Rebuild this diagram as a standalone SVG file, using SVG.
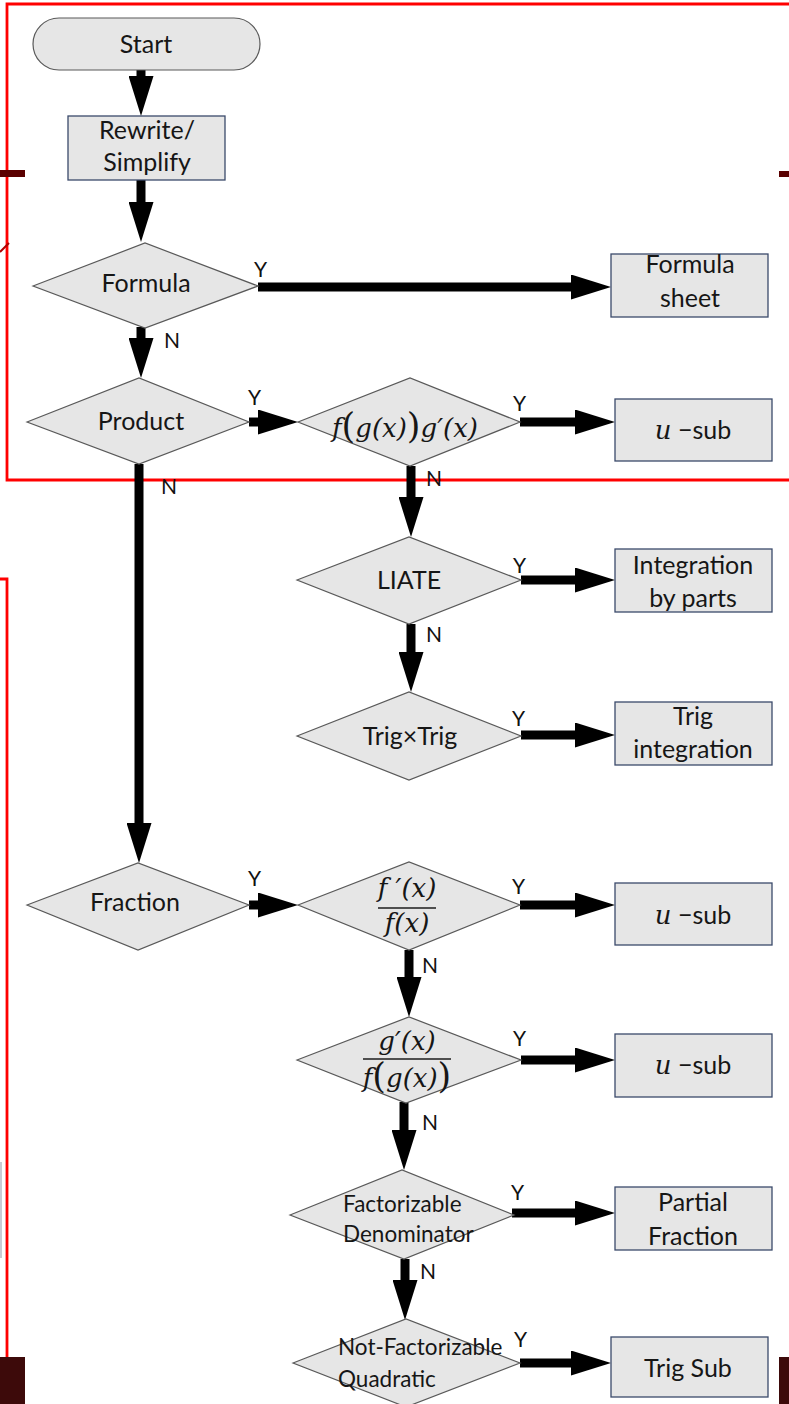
<svg xmlns="http://www.w3.org/2000/svg" width="789" height="1404" viewBox="0 0 789 1404">
<defs>
<marker id="ah" viewBox="0 0 40 25" refX="12" refY="12.5" markerWidth="40" markerHeight="25" markerUnits="userSpaceOnUse" orient="auto">
<path d="M0,0 L40,12.5 L0,25 z" fill="#000"/>
</marker>
<style>
.box{fill:#e6e6e6;stroke:#3b4a6b;stroke-width:1.3}
.dia{fill:#e6e6e6;stroke:#595959;stroke-width:1.2}
.t{font-family:Lato,"Open Sans",sans-serif;font-size:25px;fill:#161616;text-anchor:middle}
.s{font-family:Lato,"Open Sans",sans-serif;font-size:22.5px;fill:#161616}
.lbl{font-family:Lato,"Open Sans",sans-serif;font-size:21px;fill:#111}
.m{font-family:"DejaVu Serif",serif;font-style:italic;font-size:26px;fill:#161616;text-anchor:middle}
.mi{font-family:"DejaVu Serif",serif;font-style:italic;font-size:26px}
.arr{stroke:#000;stroke-width:9;fill:none;marker-end:url(#ah)}
.red{stroke:#ff0000;stroke-width:2.8;fill:none}
</style>
</defs>
<rect width="789" height="1404" fill="#fff"/>
<g id="decor">
<polyline class="red" points="789,4 7,4 7,480 789,480"/>
<polyline class="red" points="0,579 7,579 7,1372 0,1372"/>
<rect x="0" y="170" width="25" height="7" fill="#5a0000"/>
<rect x="779" y="171" width="10" height="6" fill="#5a0000"/>
<line x1="0" y1="252" x2="9" y2="243" stroke="#b00000" stroke-width="2"/>
<rect x="0" y="1162" width="2" height="96" fill="#c8ccd4"/>
<rect x="0" y="1357" width="25" height="47" fill="#3d0a0a"/>
<rect x="779" y="1357" width="10" height="47" fill="#3d0a0a"/>
</g>
<g id="connectors">
<path class="arr" d="M141,70 V88"/>
<path class="arr" d="M141,180 V214"/>
<path class="arr" d="M258,287 H583"/>
<path class="arr" d="M141,327 V350"/>
<path class="arr" d="M249,422 H270"/>
<path class="arr" d="M520,422 H587"/>
<path class="arr" d="M411,466 V509"/>
<path class="arr" d="M521,580 H587"/>
<path class="arr" d="M411,624 V664"/>
<path class="arr" d="M521,735 H587"/>
<path class="arr" d="M139,464 V835"/>
<path class="arr" d="M249,905 H270"/>
<path class="arr" d="M520,905 H587"/>
<path class="arr" d="M409,950 V989"/>
<path class="arr" d="M521,1060 H587"/>
<path class="arr" d="M404,1102 V1142"/>
<path class="arr" d="M512,1213 H587"/>
<path class="arr" d="M405,1259 V1292"/>
<path class="arr" d="M520,1363 H583"/>
<text class="lbl" x="254" y="277">Y</text>
<text class="lbl" x="164" y="348">N</text>
<text class="lbl" x="248" y="405">Y</text>
<text class="lbl" x="513" y="411">Y</text>
<text class="lbl" x="426" y="486">N</text>
<text class="lbl" x="161" y="494">N</text>
<text class="lbl" x="513" y="573">Y</text>
<text class="lbl" x="426" y="642">N</text>
<text class="lbl" x="512" y="726">Y</text>
<text class="lbl" x="248" y="886">Y</text>
<text class="lbl" x="512" y="894">Y</text>
<text class="lbl" x="422" y="973">N</text>
<text class="lbl" x="513" y="1046">Y</text>
<text class="lbl" x="422" y="1130">N</text>
<text class="lbl" x="511" y="1200">Y</text>
<text class="lbl" x="420" y="1279">N</text>
<text class="lbl" x="514" y="1347">Y</text>
</g>
<g id="start">
<rect class="dia" x="33" y="18" width="227" height="52" rx="26"/>
<text class="t" x="146" y="53">Start</text>
</g>
<g id="rewrite">
<rect class="box" x="68" y="116" width="157" height="64"/>
<text class="t" x="147" y="139">Rewrite/</text>
<text class="t" x="147" y="171">Simplify</text>
</g>
<g id="formula">
<polygon class="dia" points="33,286 145,243 258,286 145,328"/>
<text class="t" x="146" y="292">Formula</text>
</g>
<g id="formula-sheet">
<rect class="box" x="611" y="254" width="157" height="63"/>
<text class="t" x="690" y="273">Formula</text>
<text class="t" x="690" y="307">sheet</text>
</g>
<g id="product">
<polygon class="dia" points="27,422 139,378 249,422 139,464"/>
<text class="t" x="141" y="430">Product</text>
</g>
<g id="fg">
<polygon class="dia" points="298,422 410,378 520,422 410,466"/>
<text class="m" x="405" y="437">f<tspan font-size="35" font-style="normal" dy="1">(</tspan><tspan dy="-1">g(x)</tspan><tspan font-size="35" font-style="normal" dy="1">)</tspan><tspan dy="-1">g′(x)</tspan></text>
</g>
<g id="usub1">
<rect class="box" x="615" y="399" width="157" height="62"/>
<text class="t" x="693" y="439"><tspan class="mi">u</tspan> −sub</text>
</g>
<g id="liate">
<polygon class="dia" points="297,580 409,537 521,580 409,624"/>
<text class="t" x="409" y="589">LIATE</text>
</g>
<g id="ibp">
<rect class="box" x="615" y="549" width="157" height="63"/>
<text class="t" x="693" y="574">Integration</text>
<text class="t" x="693" y="607">by parts</text>
</g>
<g id="trigtrig">
<polygon class="dia" points="297,736 409,692 521,736 409,780"/>
<text class="t" x="410" y="745">Trig×Trig</text>
</g>
<g id="trigint">
<rect class="box" x="615" y="702" width="157" height="63"/>
<text class="t" x="693" y="725">Trig</text>
<text class="t" x="693" y="758">integration</text>
</g>
<g id="fraction">
<polygon class="dia" points="27,905 138,863 249,905 138,950"/>
<text class="t" x="135" y="911">Fraction</text>
</g>
<g id="fpf">
<polygon class="dia" points="298,905 409,862 520,905 409,950"/>
<text class="m" x="407" y="897">f ′(x)</text>
<line x1="378" y1="908" x2="436" y2="908" stroke="#1c1c1c" stroke-width="1.3"/>
<text class="m" x="407" y="932">f(x)</text>
</g>
<g id="usub2">
<rect class="box" x="615" y="883" width="157" height="62"/>
<text class="t" x="693" y="924"><tspan class="mi">u</tspan> −sub</text>
</g>
<g id="gpfg">
<polygon class="dia" points="297,1060 409,1017 521,1060 406,1103"/>
<text class="m" x="407" y="1050">g′(x)</text>
<line x1="363" y1="1059" x2="451" y2="1059" stroke="#1c1c1c" stroke-width="1.3"/>
<text class="m" x="407" y="1087">f<tspan font-size="35" font-style="normal" dy="1">(</tspan><tspan dy="-1">g(x)</tspan><tspan font-size="35" font-style="normal" dy="1">)</tspan></text>
</g>
<g id="usub3">
<rect class="box" x="615" y="1034" width="157" height="63"/>
<text class="t" x="693" y="1074"><tspan class="mi">u</tspan> −sub</text>
</g>
<g id="factorizable">
<polygon class="dia" points="290,1215 402,1170 514,1215 404,1259"/>
<text class="s" x="343" y="1212">Factorizable</text>
<text class="s" x="343" y="1242">Denominator</text>
</g>
<g id="partial">
<rect class="box" x="615" y="1187" width="157" height="63"/>
<text class="t" x="693" y="1211">Partial</text>
<text class="t" x="693" y="1245">Fraction</text>
</g>
<g id="notfact">
<polygon class="dia" points="293,1363 406,1319 520,1363 406,1407"/>
<text class="s" x="338" y="1355">Not-Factorizable</text>
<text class="s" x="338" y="1387">Quadratic</text>
</g>
<g id="trigsub">
<rect class="box" x="611" y="1337" width="157" height="60"/>
<text class="t" x="688" y="1377">Trig Sub</text>
</g>
</svg>
